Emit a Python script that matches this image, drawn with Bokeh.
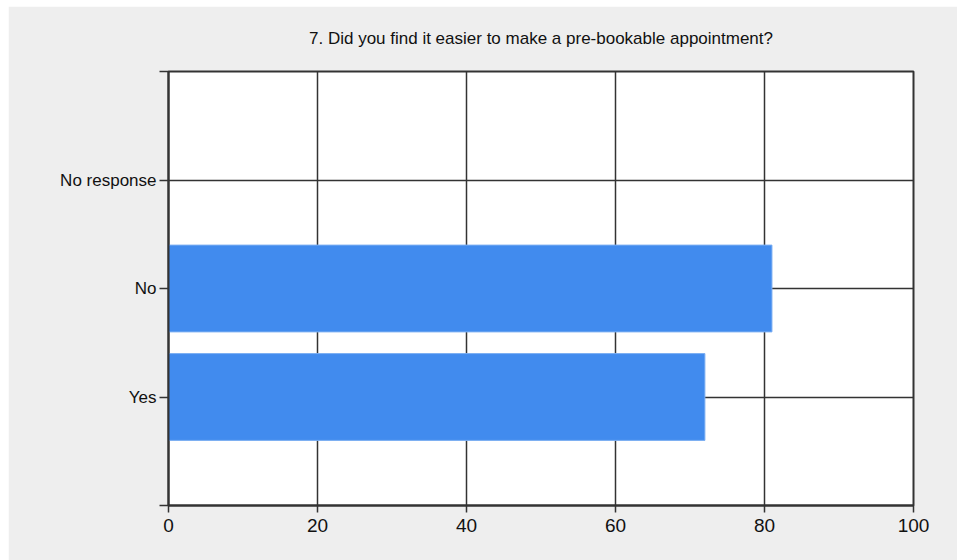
from bokeh.plotting import figure
from bokeh.models import FixedTicker, Range1d
from bokeh.embed import file_html
from bokeh.resources import INLINE

title_text = "7. Did you find it easier to make a pre-bookable appointment?"
categories = ["Yes", "No", "No response"]
values = [72, 81, 0]
positions = [1, 2, 3]
x_ticks = [0, 20, 40, 60, 80, 100]
y_ticks = [0, 1, 2, 3, 4]

BG = "#eeeeee"
DARK = "#333333"

p = figure(width=949, height=554, output_backend="svg", toolbar_location=None,
           x_range=Range1d(0, 100), y_range=Range1d(0, 4),
           min_border_left=160, min_border_right=44, min_border_top=65, min_border_bottom=55,
           title=title_text)
p.margin = (6, 0, 0, 8)
p.background_fill_color = "white"
p.border_fill_color = BG
p.outline_line_color = DARK
p.outline_line_width = 2

p.title.align = "center"
p.title.vertical_align = "top"
p.title.text_font = "Liberation Sans"
p.title.text_font_size = "17px"
p.title.text_font_style = "normal"
p.title.text_color = "#111111"
p.title.standoff = 43

p.hbar(y=positions, right=values, left=0, height=0.8,
       fill_color="#418bee", line_color="#7aaef2", line_width=1)

p.xaxis.ticker = FixedTicker(ticks=x_ticks)
p.yaxis.ticker = FixedTicker(ticks=y_ticks)
p.yaxis.major_label_overrides = {0: "", 1: categories[0], 2: categories[1], 3: categories[2], 4: ""}

for ax in (p.xaxis[0], p.yaxis[0]):
    ax.axis_line_color = DARK
    ax.axis_line_width = 2
    ax.major_tick_line_color = DARK
    ax.major_tick_line_width = 1.5
    ax.major_tick_in = 0
    ax.minor_tick_line_color = None
    ax.major_label_text_font = "Liberation Sans"
    ax.major_label_text_color = "#111111"

p.xaxis.major_tick_out = 7
p.xaxis.major_label_text_font_size = "19px"
p.xaxis.major_label_standoff = 6
p.yaxis.major_tick_out = 9
p.yaxis.major_label_text_font_size = "17px"
p.yaxis.major_label_standoff = 3

p.xgrid.ticker = FixedTicker(ticks=x_ticks)
p.ygrid.ticker = FixedTicker(ticks=y_ticks)
p.grid.grid_line_color = DARK
p.grid.grid_line_width = 1.5

open("out.html", "w").write(file_html(p, INLINE))
